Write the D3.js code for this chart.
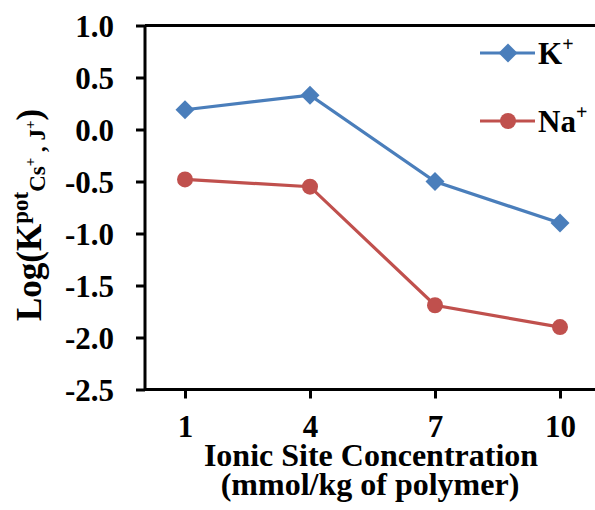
<!DOCTYPE html>
<html>
<head>
<meta charset="utf-8">
<script src="https://cdn.jsdelivr.net/npm/d3@7"></script>
<style>
  html, body { margin: 0; padding: 0; background: #fff; }
  svg { display: block; }
  text { font-family: "Liberation Serif", "Times New Roman", serif; font-weight: bold; fill: #000; }
</style>
</head>
<body>
<svg id="chart" width="595" height="510"></svg>
<script>
const categories = ["1", "4", "7", "10"];
const kValues = [0.19, 0.33, -0.50, -0.90];
const naValues = [-0.48, -0.55, -1.69, -1.90];
const yTicks = [1.0, 0.5, 0.0, -0.5, -1.0, -1.5, -2.0, -2.5];
const seriesNames = ["K", "Na"];

const svg = d3.select("#chart");
const plotLeft = 145, plotRight = 600, plotTop = 25.5, plotBottom = 389.5;

const x = d3.scalePoint().domain(categories).range([plotLeft, plotRight]).padding(0.32);
const y = d3.scaleLinear().domain([-2.5, 1.0]).range([plotBottom, plotTop]);

const blue = "#4A7EBB", red = "#C0504D";

// frame top line
svg.append("line").attr("x1", plotLeft).attr("x2", 595).attr("y1", plotTop).attr("y2", plotTop)
  .attr("stroke", "#000").attr("stroke-width", 3);

// y axis
const yAxis = svg.append("g").attr("transform", `translate(${plotLeft},0)`)
  .call(d3.axisLeft(y).tickValues(yTicks).tickSize(9).tickPadding(22));
yAxis.select(".domain").attr("stroke-width", 3).attr("d", `M0,${plotTop}V${plotBottom}`);
yAxis.selectAll(".tick line").attr("stroke-width", 3);
yAxis.selectAll(".tick text").attr("font-size", 31).attr("font-family", "Liberation Serif").attr("font-weight", "bold")
  .attr("dy", "0.34em")
  .text(d => d3.format(".1f")(d).replace("\u2212", "-"));

// x axis
const xAxis = svg.append("g").attr("transform", `translate(0,${plotBottom})`)
  .call(d3.axisBottom(x).tickSize(9).tickPadding(16));
xAxis.select(".domain").attr("stroke-width", 3).attr("d", `M${plotLeft},0H595`);
xAxis.selectAll(".tick line").attr("stroke-width", 3);
xAxis.selectAll(".tick text").attr("font-size", 31).attr("font-family", "Liberation Serif").attr("font-weight", "bold");

// lines
const line = d3.line().x((d, i) => x(categories[i])).y(d => y(d));
svg.append("path").datum(kValues).attr("d", line).attr("fill", "none").attr("stroke", blue).attr("stroke-width", 3.2);
svg.append("path").datum(naValues).attr("d", line).attr("fill", "none").attr("stroke", red).attr("stroke-width", 3.2);

const diamond = d3.symbol().type(d3.symbolSquare).size(180);
svg.selectAll(".kpt").data(kValues).enter().append("path")
  .attr("d", diamond)
  .attr("transform", (d, i) => `translate(${x(categories[i])},${y(d)}) rotate(45)`)
  .attr("fill", blue);
svg.selectAll(".napt").data(naValues).enter().append("circle")
  .attr("cx", (d, i) => x(categories[i])).attr("cy", d => y(d)).attr("r", 8)
  .attr("fill", red);

// legend
const legend = [{name: seriesNames[0], color: blue, shape: "diamond", yy: 53},
                {name: seriesNames[1], color: red, shape: "circle", yy: 121}];
legend.forEach(l => {
  svg.append("line").attr("x1", 480).attr("x2", 535).attr("y1", l.yy).attr("y2", l.yy)
    .attr("stroke", l.color).attr("stroke-width", 3.2);
  if (l.shape === "diamond") {
    svg.append("path").attr("d", diamond).attr("transform", `translate(508,${l.yy}) rotate(45)`).attr("fill", l.color);
  } else {
    svg.append("circle").attr("cx", 508).attr("cy", l.yy).attr("r", 8).attr("fill", l.color);
  }
  const t = svg.append("text").attr("x", 538).attr("y", l.yy + 11).attr("font-size", 31);
  t.append("tspan").text(l.name);
  t.append("tspan").attr("font-size", 20).attr("dy", -13).text("+");
});

// x title
svg.append("text").attr("x", 371).attr("y", 466).attr("text-anchor", "middle").attr("font-size", 32)
  .text("Ionic Site Concentration");
svg.append("text").attr("x", 370).attr("y", 495).attr("text-anchor", "middle").attr("font-size", 32)
  .text("(mmol/kg of polymer)");

// y title
const yt = svg.append("text").attr("transform", "translate(41,321) rotate(-90)").attr("font-size", 35);
yt.append("tspan").text("Log(K");
yt.append("tspan").attr("font-size", 23).attr("dy", -13).text("pot");
yt.append("tspan").attr("font-size", 23).attr("dy", 17).text("Cs");
yt.append("tspan").attr("font-size", 15).attr("dy", -10).text("+");
yt.append("tspan").attr("font-size", 23).attr("dy", 10).text(" , J");
yt.append("tspan").attr("font-size", 15).attr("dy", -10).text("+");
yt.append("tspan").attr("dy", 6).text(")");
</script>
</body>
</html>
